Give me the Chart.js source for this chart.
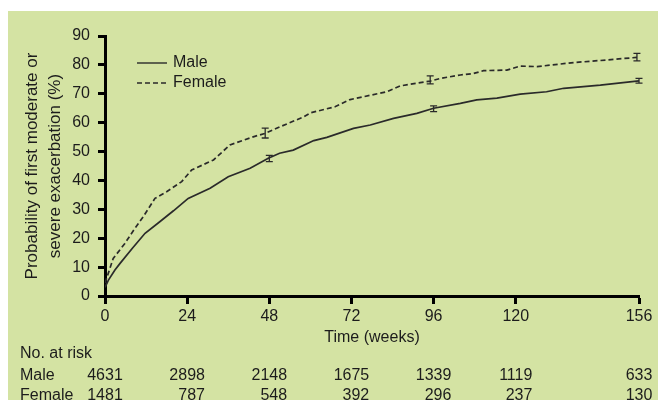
<!DOCTYPE html>
<html>
<head>
<meta charset="utf-8">
<script src="https://cdn.jsdelivr.net/npm/chart.js@4/dist/chart.umd.min.js"></script>
<style>
  body { margin: 0; background: #fff; }
  canvas { display: block; }
</style>
</head>
<body>
<canvas id="kmChart" width="658" height="400"></canvas>
<script>
// Kaplan-Meier style curves: [week, probability %]
const malePoints = [
    [0, 3], [1, 5.5], [2.9, 9], [4.4, 11.3], [8, 16.5], [11.7, 21.7], [16, 25.7], [20, 29.5],
    [24.3, 33.8], [30.7, 37.3], [36, 41.3], [42.4, 44.2], [47.7, 47.7], [51, 49.4], [55, 50.5],
    [61, 53.8], [64.8, 54.9], [72.6, 58], [77.5, 59.2], [84.3, 61.5], [91.1, 63.2], [96, 65],
    [103.8, 66.7], [108.6, 67.9], [114.5, 68.5], [121.3, 69.9], [129, 70.7], [134, 71.9],
    [144.7, 73], [156, 74.5]
];
const femalePoints = [
    [0, 4.5], [1, 8], [2.4, 13], [5.8, 18.2], [8.5, 23], [11.2, 27.5], [14.6, 33.8], [18, 36.1],
    [22.4, 39.6], [25.3, 43.6], [31.7, 47.1], [36.5, 52.3], [43.3, 55.1], [46.8, 56.3],
    [51.2, 58.6], [58, 62], [60, 63.4], [67.2, 65.5], [71.6, 68], [82.3, 70.7], [86.2, 72.7],
    [89, 73.3], [95, 74.4], [97.9, 75.3], [103.8, 76.5], [107.6, 77], [110.6, 78], [117.4, 78.2],
    [121.3, 79.6], [126.2, 79.4], [136.9, 80.8], [146.6, 81.7], [155.4, 82.6]
];
// error bars: [week, centre, half-width]
const maleErrors = [[48, 47.6, 1.1], [96, 64.8, 1.0], [156, 74.5, 0.8]];
const femaleErrors = [[46.8, 56.4, 1.7], [95, 74.8, 1.4], [155.4, 82.7, 1.3]];

const xTicks = [0, 24, 48, 72, 96, 120, 156];
const riskWeeks = [0, 24, 48, 72, 96, 120, 156];
const maleAtRisk = [4631, 2898, 2148, 1675, 1339, 1119, 633];
const femaleAtRisk = [1481, 787, 548, 392, 296, 237, 130];

const FONT = 'Liberation Sans, Arial, Helvetica, sans-serif';
const TEXT = '#1c1c1c';
const LINE = '#2a2a2a';

function toXY(points) {
    return points.map(p => ({ x: p[0], y: p[1] }));
}

const panelPlugin = {
    id: 'panel',
    beforeDraw(chart) {
        const ctx = chart.ctx;
        ctx.save();
        ctx.fillStyle = '#d4e3a3';
        ctx.fillRect(8, 11, chart.width - 8, chart.height - 11);
        ctx.restore();
    }
};

const extrasPlugin = {
    id: 'extras',
    afterDatasetsDraw(chart) {
        const ctx = chart.ctx;
        const xs = chart.scales.x;
        const ys = chart.scales.y;
        ctx.save();

        // error bars
        ctx.strokeStyle = LINE;
        ctx.lineWidth = 1.3;
        [maleErrors, femaleErrors].forEach(list => {
            list.forEach(e => {
                const px = xs.getPixelForValue(e[0]);
                const top = ys.getPixelForValue(e[1] + e[2]);
                const bot = ys.getPixelForValue(e[1] - e[2]);
                ctx.beginPath();
                ctx.moveTo(px, top); ctx.lineTo(px, bot);
                ctx.moveTo(px - 3.5, top); ctx.lineTo(px + 3.5, top);
                ctx.moveTo(px - 3.5, bot); ctx.lineTo(px + 3.5, bot);
                ctx.stroke();
            });
        });

        // legend
        ctx.font = '16px ' + FONT;
        ctx.textBaseline = 'middle';
        ctx.fillStyle = TEXT;
        chart.data.datasets.forEach((ds, i) => {
            const y = 63 + i * 20;
            ctx.strokeStyle = LINE;
            ctx.lineWidth = 1.4;
            ctx.setLineDash(ds.borderDash || []);
            ctx.beginPath();
            ctx.moveTo(137, y); ctx.lineTo(167, y);
            ctx.stroke();
            ctx.setLineDash([]);
            ctx.fillText(ds.label, 173, y);
        });

        // number at risk table
        ctx.textAlign = 'left';
        ctx.fillText('No. at risk', 20, 354);
        ctx.fillText('Male', 20, 376);
        ctx.fillText('Female', 20, 396);
        ctx.textAlign = 'right';
        riskWeeks.forEach((w, i) => {
            const px = xs.getPixelForValue(w);
            const a = String(maleAtRisk[i]);
            const b = String(femaleAtRisk[i]);
            const half = Math.max(ctx.measureText(a).width, ctx.measureText(b).width) / 2;
            ctx.fillText(a, px + half, 376);
            ctx.fillText(b, px + half, 396);
        });
        ctx.restore();
    }
};

const ctx = document.getElementById('kmChart').getContext('2d');
new Chart(ctx, {
    type: 'line',
    data: {
        datasets: [
            {
                label: 'Male',
                data: toXY(malePoints),
                borderColor: LINE,
                borderWidth: 1.7,
                pointRadius: 0,
                tension: 0,
                fill: false,
            },
            {
                label: 'Female',
                data: toXY(femalePoints),
                borderColor: LINE,
                borderWidth: 1.7,
                borderDash: [5, 3],
                pointRadius: 0,
                tension: 0,
                fill: false,
            },
        ],
    },
    options: {
        responsive: false,
        animation: false,
        layout: { padding: { left: 0, top: 36, right: 19, bottom: 0 } },
        plugins: {
            legend: { display: false },
            tooltip: { enabled: false },
        },
        scales: {
            x: {
                type: 'linear',
                min: 0,
                max: 156,
                afterBuildTicks: scale => { scale.ticks = xTicks.map(v => ({ value: v })); },
                afterFit: scale => { scale.height = 104; },
                border: { display: true, color: '#000', width: 3 },
                grid: { drawOnChartArea: false, drawTicks: true, tickLength: 8, tickWidth: 3, tickColor: '#000' },
                ticks: { color: TEXT, font: { size: 16, family: FONT }, padding: 3, maxRotation: 0, autoSkip: false },
                title: { display: true, text: 'Time (weeks)', color: TEXT, font: { size: 16, family: FONT }, padding: { top: 0, bottom: 53 } },
            },
            y: {
                min: 0,
                max: 90,
                afterFit: scale => { scale.width = 105; },
                border: { display: true, color: '#000', width: 3 },
                grid: { drawOnChartArea: false, drawTicks: true, tickLength: 7, tickWidth: 3, tickColor: '#000' },
                ticks: { stepSize: 10, color: TEXT, font: { size: 16, family: FONT }, padding: 8 },
                title: {
                    display: true,
                    text: ['Probability of first moderate or', 'severe exacerbation (%)'],
                    color: TEXT,
                    font: { size: 17, family: FONT, lineHeight: 1.35 },
                    padding: { top: 21 },
                },
            },
        },
    },
    plugins: [panelPlugin, extrasPlugin],
});
</script>
</body>
</html>
